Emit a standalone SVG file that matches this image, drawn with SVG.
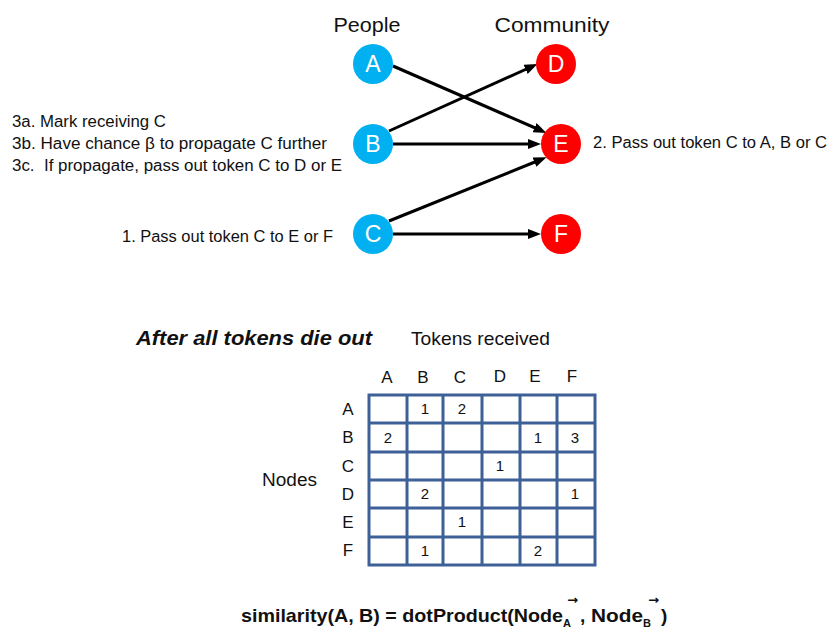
<svg xmlns="http://www.w3.org/2000/svg" width="840" height="640" viewBox="0 0 840 640">
<style>
text{font-family:"Liberation Sans",Arial,sans-serif;fill:#111}
.lbl{font-size:16px}
.hdr{font-size:21px}
.node text{font-size:23px;fill:#fff;text-anchor:middle}
.p{fill:#00B0F0}
.c{fill:#FF0000}
.edge{stroke:#000;stroke-width:3;fill:none;marker-end:url(#ah)}
.grid{stroke:#3D6196;stroke-width:3;fill:none}
.tl{font-size:17px;text-anchor:middle}
.num{font-size:15px;text-anchor:middle}
.f{font-size:19px;font-weight:bold}
.arr{font-family:"DejaVu Sans",sans-serif;font-size:12px;font-weight:bold}
</style>
<defs>
<marker id="ah" viewBox="0 0 13 10" refX="7" refY="5" markerWidth="13" markerHeight="10" markerUnits="userSpaceOnUse" orient="auto">
<path d="M0,0 L13,5 L0,10 z" fill="#000"/>
</marker>
</defs>
<rect width="840" height="640" fill="#fff"/>

<text class="hdr" x="367" y="32" text-anchor="middle" textLength="67" lengthAdjust="spacingAndGlyphs">People</text>
<text class="hdr" x="552" y="32" text-anchor="middle" textLength="115" lengthAdjust="spacingAndGlyphs">Community</text>

<g id="connectors">
<line class="edge" x1="393" y1="66" x2="541" y2="130.5"/>
<line class="edge" x1="389" y1="131" x2="532" y2="66.5"/>
<line class="edge" x1="393" y1="144" x2="535" y2="144"/>
<line class="edge" x1="389" y1="221" x2="541" y2="159.5"/>
<line class="edge" x1="393" y1="234" x2="535" y2="234"/>
</g>

<g id="node-A" class="node"><circle class="p" cx="373" cy="64" r="20"/><text x="373" y="72">A</text></g>
<g id="node-B" class="node"><circle class="p" cx="373" cy="144" r="20"/><text x="373" y="152">B</text></g>
<g id="node-C" class="node"><circle class="p" cx="373" cy="234" r="20"/><text x="373" y="242">C</text></g>
<g id="node-D" class="node"><circle class="c" cx="556" cy="64" r="20"/><text x="556" y="72">D</text></g>
<g id="node-E" class="node"><circle class="c" cx="561" cy="144" r="20"/><text x="561" y="152">E</text></g>
<g id="node-F" class="node"><circle class="c" cx="561" cy="234" r="20"/><text x="561" y="242">F</text></g>

<text class="lbl" x="12" y="127" textLength="154" lengthAdjust="spacingAndGlyphs">3a. Mark receiving C</text>
<text class="lbl" x="12" y="149" textLength="315" lengthAdjust="spacingAndGlyphs">3b. Have chance β to propagate C further</text>
<text class="lbl" x="12" y="171" textLength="330" lengthAdjust="spacingAndGlyphs" xml:space="preserve" style="white-space:pre">3c.  If propagate, pass out token C to D or E</text>
<text class="lbl" x="122" y="242" textLength="211" lengthAdjust="spacingAndGlyphs">1. Pass out token C to E or F</text>
<text class="lbl" x="593" y="148" textLength="234" lengthAdjust="spacingAndGlyphs">2. Pass out token C to A, B or C</text>

<text x="136" y="345" font-size="21" font-weight="bold" font-style="italic" textLength="236" lengthAdjust="spacingAndGlyphs">After all tokens die out</text>
<text x="411" y="345" font-size="19" textLength="139" lengthAdjust="spacingAndGlyphs">Tokens received</text>

<g id="col-headers">
<text class="tl" x="387" y="383">A</text>
<text class="tl" x="423" y="383">B</text>
<text class="tl" x="460" y="383">C</text>
<text class="tl" x="500" y="382">D</text>
<text class="tl" x="535" y="382">E</text>
<text class="tl" x="572" y="382">F</text>
</g>
<g id="row-headers">
<text class="tl" x="348" y="415">A</text>
<text class="tl" x="348" y="443">B</text>
<text class="tl" x="348" y="472">C</text>
<text class="tl" x="348" y="500">D</text>
<text class="tl" x="348" y="528">E</text>
<text class="tl" x="348" y="556">F</text>
</g>
<text x="262" y="486" font-size="18" textLength="55" lengthAdjust="spacingAndGlyphs">Nodes</text>

<g id="table" class="grid">
<rect x="369" y="395" width="226" height="170"/>
<path d="M407,395V565M443,395V565M482,395V565M520,395V565M557,395V565M369,423H595M369,452H595M369,480H595M369,508H595M369,537H595"/>
</g>
<g id="cells">
<text class="num" x="425" y="414">1</text>
<text class="num" x="462" y="414">2</text>
<text class="num" x="388" y="443">2</text>
<text class="num" x="538" y="443">1</text>
<text class="num" x="575" y="443">3</text>
<text class="num" x="500" y="471">1</text>
<text class="num" x="425" y="499">2</text>
<text class="num" x="575" y="499">1</text>
<text class="num" x="462" y="527">1</text>
<text class="num" x="425" y="556">1</text>
<text class="num" x="538" y="556">2</text>
</g>

<g id="formula">
<text class="f" x="241" y="622" textLength="322" lengthAdjust="spacingAndGlyphs">similarity(A, B) = dotProduct(Node</text>
<text x="563" y="627" font-size="11" font-weight="bold">A</text>
<text class="arr" x="567" y="604" textLength="11" lengthAdjust="spacingAndGlyphs">→</text>
<text class="f" x="580" y="622">,</text>
<text class="f" x="591" y="622" textLength="52" lengthAdjust="spacingAndGlyphs">Node</text>
<text x="643" y="627" font-size="11" font-weight="bold">B</text>
<text class="arr" x="648" y="604" textLength="11" lengthAdjust="spacingAndGlyphs">→</text>
<text class="f" x="661" y="622">)</text>
</g>
</svg>
